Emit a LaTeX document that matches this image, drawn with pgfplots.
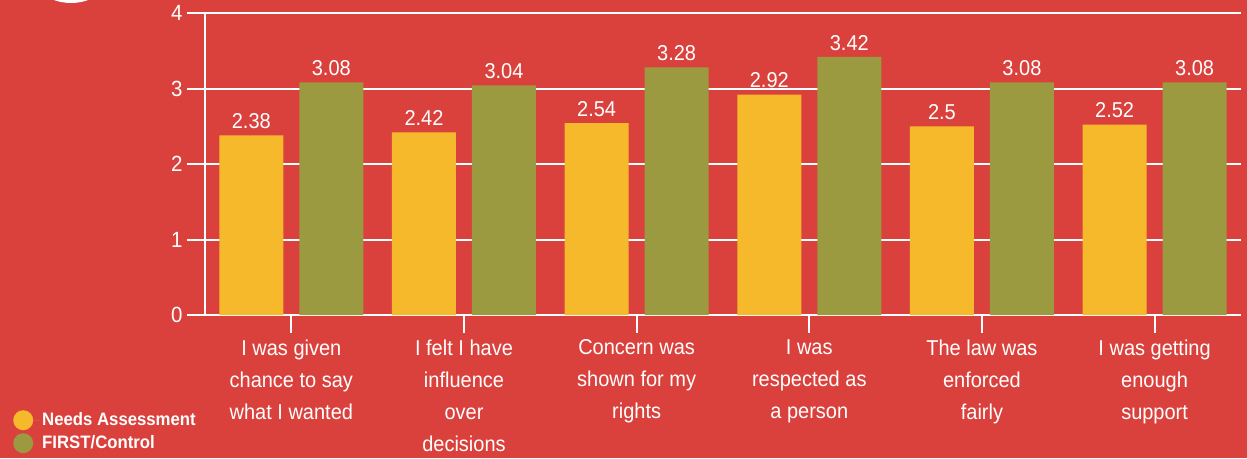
\documentclass[border=0pt]{standalone}
\usepackage{fontspec}
\setmainfont{Liberation Sans}[FakeStretch=0.93]
\usepackage{pgfplots}
\pgfplotsset{compat=1.18}
\definecolor{bgred}{HTML}{DA413C}
\definecolor{yellowc}{HTML}{F6B92B}
\definecolor{olivec}{HTML}{9B9A40}
\begin{document}
\begin{tikzpicture}
\fill[bgred] (0,0) rectangle (1247pt,458pt);
\path[use as bounding box] (0,0) rectangle (1247pt,458pt);
\clip (0,0) rectangle (1247pt,458pt);
\fill[white] (71pt,506pt) circle (51pt);
\begin{axis}[
  at={(205pt,143pt)}, anchor=south west,
  scale only axis, width=1036pt, height=302pt,
  xmin=-0.5, xmax=5.5, ymin=0, ymax=4,
  axis x line*=bottom, axis y line*=left,
  axis line style={white, line width=2pt, -},
  ytick={0,1,2,3,4},
  xtick={0,1,2,3,4,5},
  xticklabels={{I was given\\chance to say\\what I wanted},{I felt I have\\influence\\over\\decisions},{Concern was\\shown for my\\rights},{I was\\respected as\\a person},{The law was\\enforced\\fairly},{I was getting\\enough\\support}},
  tick align=outside,
  major tick length=18pt,
  tick style={white, line width=2pt},
  ymajorgrids,
  grid style={white, line width=2pt},
  /pgf/number format/assume math mode=true,
  yticklabel style={font=\fontsize{22}{26}\selectfont, text=white, xshift=-1pt},
  xticklabel style={font=\fontsize{21.5}{32}\selectfont, text=white, align=center, yshift=-3pt},
  ybar, bar width=64pt,
  nodes near coords,
  nodes near coords style={font=\fontsize{21.5}{24}\selectfont, text=white, anchor=south, yshift=3pt, /pgf/number format/fixed, /pgf/number format/precision=2},
  legend style={at={(-0.1853,-0.3146)}, anchor=north west, draw=none, fill=none, font=\bfseries\fontsize{18}{22}\selectfont, text=white, inner sep=0pt, row sep=3pt},
  legend cell align=left,
  clip=false,
]
\addplot[fill=yellowc, draw=none, bar shift=-40pt,
  legend image code/.code={\fill[yellowc] (10pt,0pt) circle (10pt); \path (0pt,0pt) -- (27pt,0pt);}]
  coordinates {(0,2.38) (1,2.42) (2,2.54) (3,2.92) (4,2.5) (5,2.52)};
\addplot[fill=olivec, draw=none, bar shift=40pt,
  legend image code/.code={\fill[olivec] (10pt,0pt) circle (10pt); \path (0pt,0pt) -- (27pt,0pt);}]
  coordinates {(0,3.08) (1,3.04) (2,3.28) (3,3.42) (4,3.08) (5,3.08)};
\legend{Needs Assessment, FIRST/Control}
\end{axis}
\end{tikzpicture}
\end{document}
